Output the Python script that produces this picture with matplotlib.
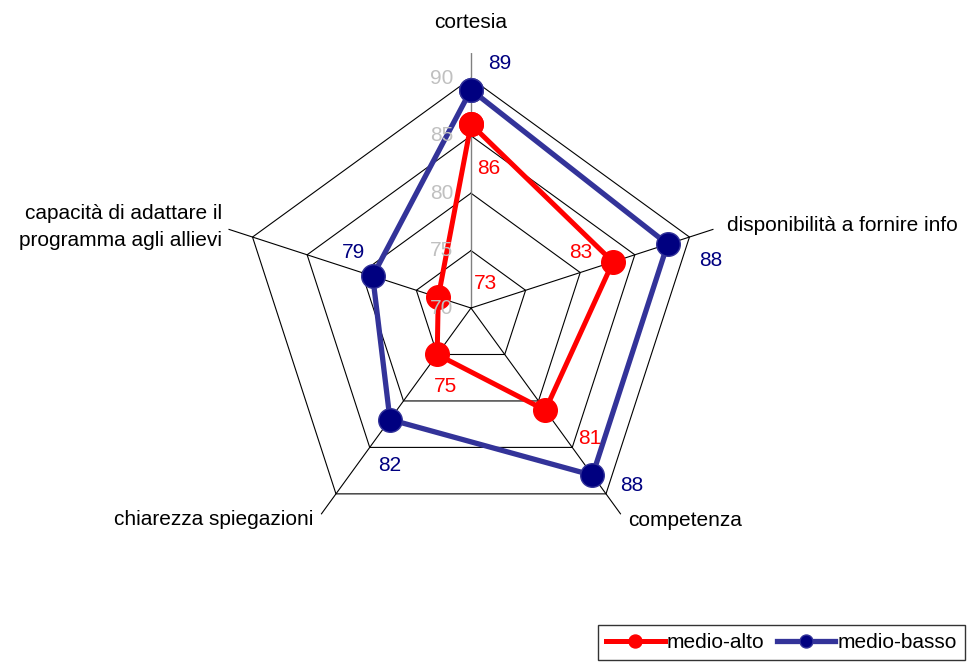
import numpy as np
import matplotlib
matplotlib.use("Agg")
import matplotlib.pyplot as plt

plt.rcParams["font.family"] = ["Liberation Sans", "DejaVu Sans"]

categories = ["cortesia", "disponibilità a fornire info", "competenza",
              "chiarezza spiegazioni", "capacità di adattare il\nprogramma agli allievi"]
medio_alto = [86, 83, 81, 75, 73]
medio_basso = [89, 88, 88, 82, 79]
levels = [70, 75, 80, 85, 90]

RED = "#ff0000"
NAVY = "#000080"
BLUE_LINE = "#333399"
GRAY = "#c0c0c0"
FS = 15

R_MIN, R_MAX, R_SPOKE = 70, 92.2, 92.2

fig = plt.figure(figsize=(9.69, 6.64), dpi=100)
ax = fig.add_axes([0.2229, 0.1521, 0.5263, 0.768], projection="polar")
ax.set_theta_offset(np.pi / 2)
ax.set_theta_direction(-1)
ax.set_ylim(R_MIN, R_MAX)
ax.grid(False)
ax.set_xticks([])
ax.set_yticks([])
ax.spines["polar"].set_visible(False)
ax.patch.set_visible(False)

n = len(categories)
theta = np.arange(n) * 2 * np.pi / n
theta_c = np.append(theta, theta[0])

# polygon grid
for lv in levels[1:]:
    ax.plot(theta_c, [lv] * (n + 1), color="black", lw=0.8, zorder=1)
for i, t in enumerate(theta):
    ax.plot([t, t], [R_MIN, R_SPOKE], color="#808080" if i == 0 else "black",
            lw=1.0 if i == 0 else 0.8, zorder=1)

# value axis labels (drawn over the series, like the original)
for lv in levels:
    ax.annotate(str(lv), (0, lv), xytext=(-21, 0), textcoords="offset points",
                ha="center", va="center", color=GRAY, fontsize=FS, zorder=6)

# series
ax.plot(theta_c, medio_alto + medio_alto[:1], color=RED, lw=3.6, marker="o",
        markersize=17, markerfacecolor=RED, markeredgecolor=RED, zorder=4,
        label="medio-alto")
ax.plot(theta_c, medio_basso + medio_basso[:1], color=BLUE_LINE, lw=3.8, marker="o",
        markersize=17, markerfacecolor=NAVY, markeredgecolor=BLUE_LINE, zorder=3,
        label="medio-basso")

# data labels (offsets in points)
alto_off = [(13, -32), (-23, 7), (32, -20), (6, -23), (34, 10)]
basso_off = [(21, 19), (31, -12), (28, -7), (0, -33), (-14, 17)]
for t, v, o in zip(theta, medio_alto, alto_off):
    ax.annotate(str(v), (t, v), xytext=o, textcoords="offset points",
                ha="center", va="center", color=RED, fontsize=FS, zorder=5)
for t, v, o in zip(theta, medio_basso, basso_off):
    ax.annotate(str(v), (t, v), xytext=o, textcoords="offset points",
                ha="center", va="center", color=NAVY, fontsize=FS, zorder=5)

# category labels
cat_pos = [(0.0, 94.9, "center"), (np.deg2rad(72.2), 93.4, "left"),
           (np.deg2rad(143.5), 93.0, "left"), (np.deg2rad(216.7), 93.0, "right"),
           (np.deg2rad(288.0), 92.8, "right")]
for lab, (t, r, ha) in zip(categories, cat_pos):
    ax.text(t, r, lab, ha=ha, va="center", fontsize=FS, color="black",
            linespacing=1.5, clip_on=False)

leg = fig.legend(loc="upper left", bbox_to_anchor=(0.617, 0.059), ncol=2,
                 fontsize=15, frameon=True, fancybox=False, edgecolor="black",
                 markerscale=0.55, handlelength=2.8, handletextpad=0.1,
                 columnspacing=0.6, borderpad=0.4, borderaxespad=0)
leg.get_frame().set_linewidth(1.0)

fig.savefig("out.png", dpi=100)
